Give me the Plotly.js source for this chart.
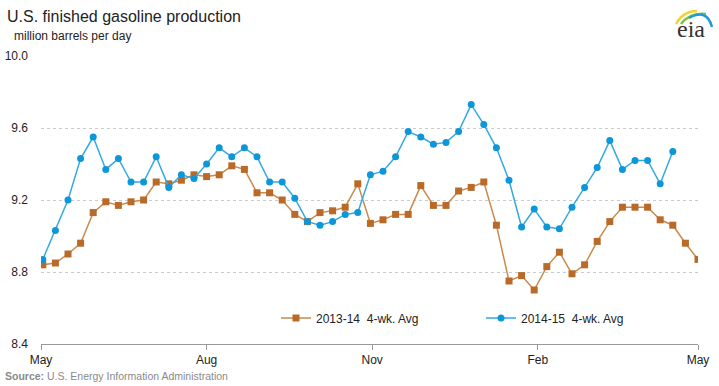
<!DOCTYPE html>
<html>
<head>
<meta charset="utf-8">
<script src="https://cdn.plot.ly/plotly-3.0.1.min.js"></script>
<style>
html,body{margin:0;padding:0;background:#fff;}
#chart{width:719px;height:386px;}
</style>
</head>
<body>
<div id="chart"></div>
<script>
// Week dates (plotted on a common May-to-May year)
var weeks = [
 '2013-05-02','2013-05-09','2013-05-16','2013-05-23','2013-05-30',
 '2013-06-06','2013-06-13','2013-06-20','2013-06-27',
 '2013-07-04','2013-07-11','2013-07-18','2013-07-25',
 '2013-08-01','2013-08-08','2013-08-15','2013-08-22','2013-08-29',
 '2013-09-05','2013-09-12','2013-09-19','2013-09-26',
 '2013-10-03','2013-10-10','2013-10-17','2013-10-24','2013-10-31',
 '2013-11-07','2013-11-14','2013-11-21','2013-11-28',
 '2013-12-05','2013-12-12','2013-12-19','2013-12-26',
 '2014-01-02','2014-01-09','2014-01-16','2014-01-23','2014-01-30',
 '2014-02-06','2014-02-13','2014-02-20','2014-02-27',
 '2014-03-06','2014-03-13','2014-03-20','2014-03-27',
 '2014-04-03','2014-04-10','2014-04-17','2014-04-24','2014-05-01'
];
var seriesNames = ['2013-14\u00a0\u00a04-wk. Avg', '2014-15\u00a0\u00a04-wk. Avg'];
var avg2013_14 = [
 8.84, 8.85, 8.90, 8.96, 9.13, 9.19, 9.17, 9.19, 9.20, 9.30,
 9.29, 9.31, 9.34, 9.33, 9.34, 9.39, 9.37, 9.24, 9.24, 9.20,
 9.12, 9.08, 9.13, 9.14, 9.16, 9.29, 9.07, 9.09, 9.12, 9.12,
 9.28, 9.17, 9.17, 9.25, 9.27, 9.30, 9.06, 8.75, 8.78, 8.70,
 8.83, 8.91, 8.79, 8.84, 8.97, 9.08, 9.16, 9.16, 9.16, 9.09,
 9.06, 8.96, 8.87
];
var avg2014_15 = [
 8.87, 9.03, 9.20, 9.43, 9.55, 9.37, 9.43, 9.30, 9.30, 9.44,
 9.27, 9.34, 9.32, 9.40, 9.49, 9.44, 9.49, 9.44, 9.30, 9.30,
 9.21, 9.08, 9.06, 9.08, 9.12, 9.13, 9.34, 9.36, 9.44, 9.58,
 9.55, 9.51, 9.52, 9.58, 9.73, 9.62, 9.49, 9.31, 9.05, 9.15,
 9.05, 9.04, 9.16, 9.27, 9.38, 9.53, 9.37, 9.42, 9.42, 9.29,
 9.47
];
var xTickVals = ['2013-05-01','2013-08-01','2013-11-01','2014-02-01','2014-05-01'];
var xTickText = ['May','Aug','Nov','Feb','May'];
var yTickVals = [8.4, 8.8, 9.2, 9.6, 10.0];

var FONT = 'Liberation Sans, Arial, sans-serif';
var L = 41, R = 21, T = 56, B = 42, W = 719, H = 386;
var pw = W - L - R, ph = H - T - B;
function px(x){ return (x - L) / pw; }
function py(y){ return (H - B - y) / ph; }

var traces = [
 {
  x: weeks.slice(0, avg2013_14.length), y: avg2013_14, name: seriesNames[0],
  type: 'scatter', mode: 'lines+markers',
  line: {color: '#C98A4E', width: 1.5},
  marker: {symbol: 'square', size: 7, color: '#B96A28'}
 },
 {
  x: weeks.slice(0, avg2014_15.length), y: avg2014_15, name: seriesNames[1],
  type: 'scatter', mode: 'lines+markers',
  line: {color: '#35A9E0', width: 1.5},
  marker: {symbol: 'circle', size: 7, color: '#0E97D8'}
 }
];

function arc(x0,y0,cx,cy,x1,y1,color){
  return {type:'path', xref:'paper', yref:'paper',
    path: 'M'+px(x0)+','+py(y0)+' Q'+px(cx)+','+py(cy)+' '+px(x1)+','+py(y1),
    line:{color:color, width:2.5}};
}

var layout = {
  width: W, height: H,
  margin: {l: L, r: R, t: T, b: B, pad: 0},
  paper_bgcolor: '#fff', plot_bgcolor: '#fff',
  font: {family: FONT, size: 12, color: '#333'},
  showlegend: true,
  legend: {
    orientation: 'h', x: px(276), xanchor: 'left', y: py(318), yanchor: 'middle',
    font: {family: FONT, size: 12, color: '#222'},
    entrywidth: 160, entrywidthmode: 'pixels',
    bgcolor: 'rgba(0,0,0,0)', traceorder: 'normal'
  },
  xaxis: {
    type: 'date', range: ['2013-05-01', '2014-05-01'],
    tickvals: xTickVals, ticktext: xTickText,
    showgrid: false, zeroline: false,
    showline: true, linecolor: '#999', linewidth: 1,
    ticks: 'outside', ticklen: 5, tickcolor: '#999',
    tickfont: {family: FONT, size: 12, color: '#222'},
    fixedrange: true
  },
  yaxis: {
    range: [8.4, 10.0], tickvals: yTickVals, tickformat: '.1f',
    showgrid: true, gridcolor: '#cccccc', griddash: 'dot', gridwidth: 1,
    zeroline: false, showline: false, ticks: '',
    ticklabelstandoff: 12,
    tickfont: {family: FONT, size: 12, color: '#222'},
    fixedrange: true
  },
  annotations: [
    {text: 'U.S. finished gasoline production', xref: 'paper', yref: 'paper',
     x: px(5), y: py(17), xanchor: 'left', yanchor: 'middle', showarrow: false,
     font: {family: FONT, size: 16, color: '#222'}},
    {text: 'million barrels per day', xref: 'paper', yref: 'paper',
     x: px(12), y: py(36), xanchor: 'left', yanchor: 'middle', showarrow: false,
     font: {family: FONT, size: 12, color: '#222'}},
    {text: '<b>Source:</b> U.S. Energy Information Administration', xref: 'paper', yref: 'paper',
     x: px(3), y: py(376), xanchor: 'left', yanchor: 'middle', showarrow: false,
     font: {family: FONT, size: 10.5, color: '#8a8a8a'}},
    {text: 'eia', xref: 'paper', yref: 'paper',
     x: px(691), y: py(29), xanchor: 'center', yanchor: 'middle', showarrow: false,
     font: {family: 'Liberation Serif, DejaVu Serif, serif', size: 24, color: '#333'}}
  ],
  shapes: [
    arc(676, 24, 683, 11, 697, 11, '#F2D23A'),
    arc(681, 24, 690, 12, 706, 14, '#7DC242'),
    arc(689, 18, 707, 8, 712, 27, '#1E9BD7')
  ]
};

Plotly.newPlot('chart', traces, layout, {staticPlot: true, displayModeBar: false});
</script>
</body>
</html>
